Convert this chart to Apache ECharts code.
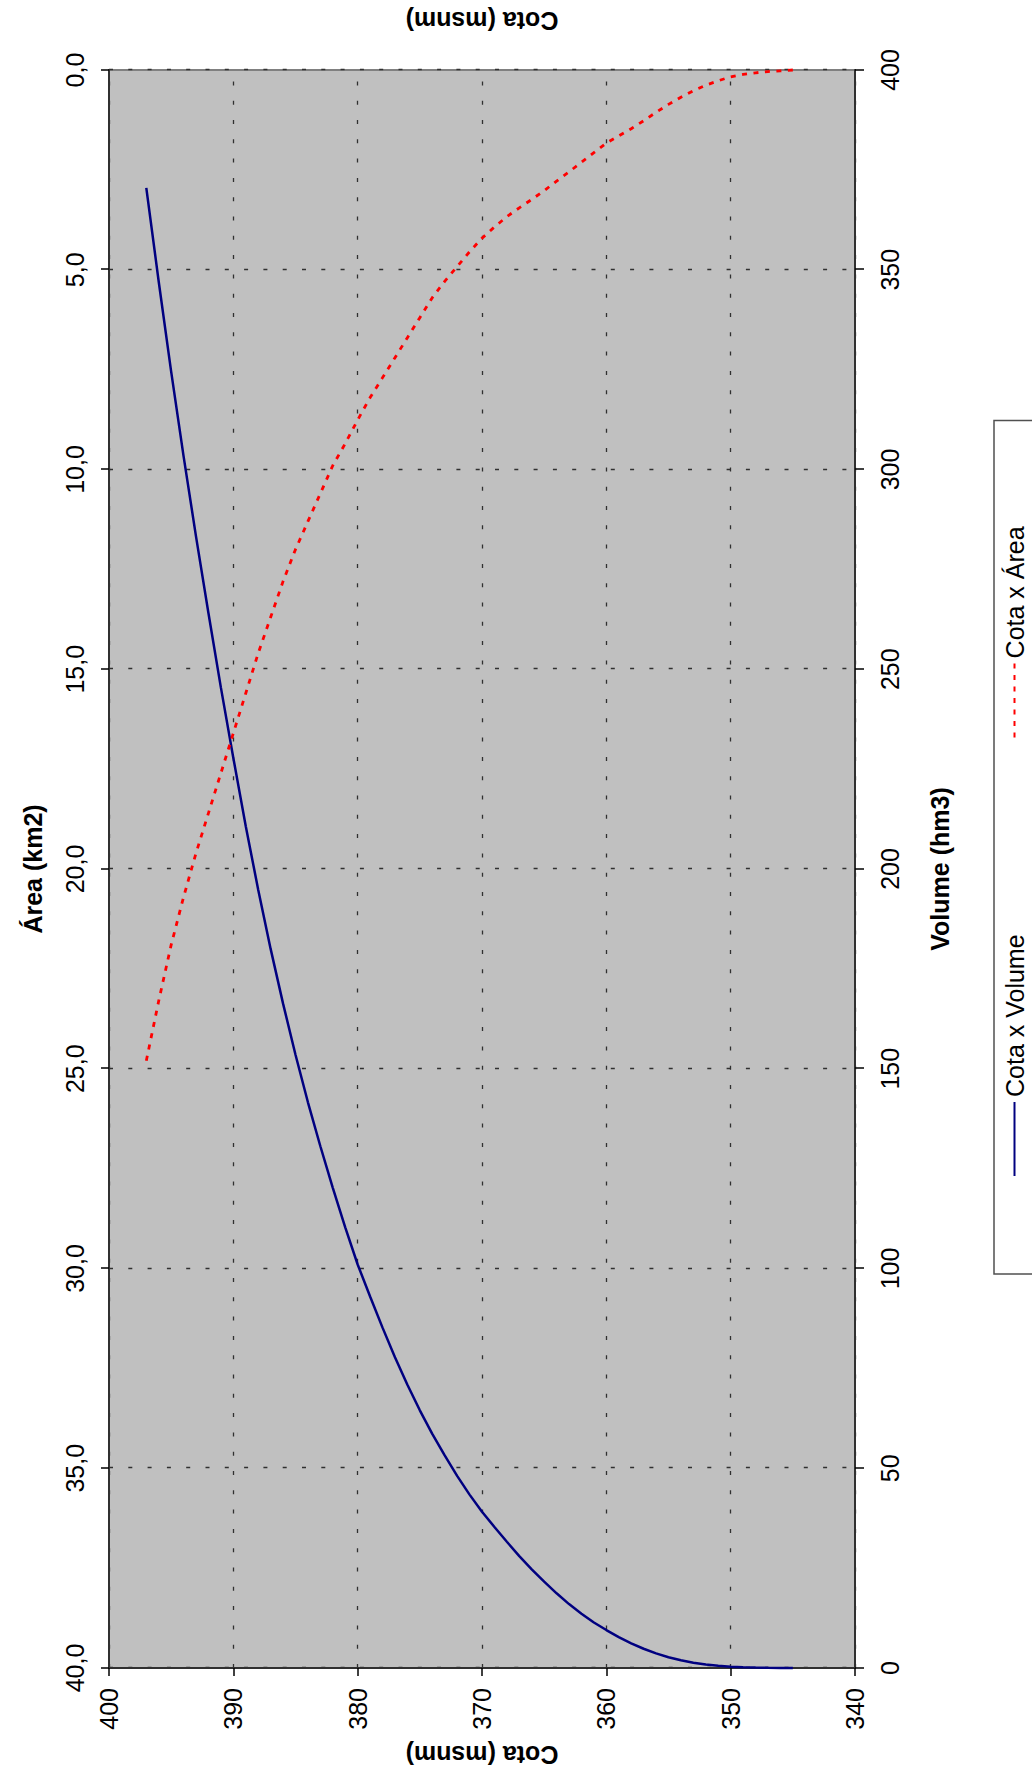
<!DOCTYPE html>
<html>
<head>
<meta charset="utf-8">
<script src="https://cdn.jsdelivr.net/npm/echarts@6/dist/echarts.min.js"></script>
<style>
  html, body { margin: 0; padding: 0; background: #fff; overflow: hidden; width: 1032px; height: 1780px; }
  /* The chart is laid out landscape and turned a quarter turn onto the portrait page */
  #chart {
    position: absolute; left: 0; top: 0;
    width: 1780px; height: 1032px;
    transform-origin: 0 0;
    transform: translate(0, 1780px) rotate(-90deg);
  }
</style>
</head>
<body>
<div id="chart"></div>
<script>
// Reservoir level (m) with the stored volume and the flooded area at each level
const cota = [345, 346, 347, 348, 349, 350, 351, 352, 353, 354,
              355, 356, 357, 358, 359, 360, 361, 362, 363, 364,
              365, 366, 367, 368, 369, 370, 371, 372, 373, 374,
              375, 376, 377, 378, 379, 380, 381, 382, 383, 384,
              385, 386, 387, 388, 389, 390, 391, 392, 393, 394,
              395, 396, 397];
const volume = [0, 0.01, 0.04, 0.1, 0.19, 0.33, 0.55, 0.87, 1.32, 1.92,
                2.69, 3.65, 4.82, 6.19, 7.75, 9.5, 11.4, 13.6, 16.0, 18.7,
                21.6, 24.7, 28.0, 31.6, 35.3, 39.1, 43.4, 48.1, 53.2, 58.6,
                64.5, 70.9, 77.8, 85.2, 93.0, 101.0, 110.3, 120.2, 130.6, 141.6,
                153.5, 166.3, 180.0, 194.8, 210.7, 227.8, 245.4, 264.0, 283.2, 303.3,
                324.5, 347.0, 370.5];
const area = [0, 0.02, 0.04, 0.07, 0.11, 0.17, 0.27, 0.38, 0.52, 0.68,
              0.86, 1.06, 1.27, 1.47, 1.65, 1.83, 2.07, 2.31, 2.55, 2.78,
              3.02, 3.24, 3.45, 3.67, 3.93, 4.21, 4.55, 4.92, 5.29, 5.7,
              6.2, 6.7, 7.2, 7.7, 8.2, 8.76, 9.35, 9.9, 10.6, 11.3,
              12.0, 12.8, 13.7, 14.6, 15.6, 16.6, 17.6, 18.6, 19.6, 20.7,
              21.9, 23.3, 24.8];

const seriesNames = ['Cota x Volume', 'Cota x Área'];
const axisTitles = { volume: 'Volume (hm3)', area: 'Área (km2)', cota: 'Cota (msnm)' };

const FONT = '"Liberation Sans", Arial, Helvetica, sans-serif';
const label = { fontFamily: FONT, fontSize: 25, color: '#000' };
const title = { fontFamily: FONT, fontSize: 25, fontWeight: 'bold', color: '#000' };
const gridDash = { color: '#303030', width: 1.3, type: [4, 15.3] };
const darkAxis = { show: true, lineStyle: { color: '#303030', width: 2 } };

const chart = echarts.init(document.getElementById('chart'), null, { renderer: 'svg' });

chart.setOption({
  animation: false,
  backgroundColor: '#ffffff',
  grid: {
    left: 112, right: 70, top: 109, bottom: 177,
    show: true, backgroundColor: '#C0C0C0', borderColor: '#808080', borderWidth: 2
  },
  legend: {
    data: seriesNames,
    left: 506, top: 994,
    orient: 'horizontal',
    itemWidth: 74, itemHeight: 4, itemGap: 196,
    padding: [8, 106, 40, 97],
    borderColor: '#505050', borderWidth: 1.5, backgroundColor: '#ffffff',
    // legend keys are plain line samples, no marker
    itemStyle: { opacity: 0 },
    textStyle: label
  },
  xAxis: [
    {
      type: 'value', position: 'bottom', min: 0, max: 400, interval: 50,
      name: axisTitles.volume, nameLocation: 'middle', nameGap: 72, nameTextStyle: title,
      axisLine: darkAxis,
      axisTick: { show: true, inside: false, length: 9, lineStyle: { color: '#000', width: 1.5 } },
      axisLabel: Object.assign({ margin: 22 }, label),
      splitLine: { show: true, lineStyle: gridDash }
    },
    {
      type: 'value', position: 'top', min: 0, max: 40, interval: 5, inverse: true,
      name: axisTitles.area, nameLocation: 'middle', nameGap: 64, nameTextStyle: title,
      axisLine: darkAxis,
      axisTick: { show: true, inside: false, length: 8, lineStyle: { color: '#000', width: 1.5 } },
      axisLabel: Object.assign({ margin: 22, formatter: v => v.toFixed(1).replace('.', ',') }, label),
      splitLine: { show: false }
    }
  ],
  yAxis: [
    {
      type: 'value', position: 'left', min: 340, max: 400, interval: 10,
      name: axisTitles.cota, nameLocation: 'middle', nameGap: 74, nameTextStyle: title,
      axisLine: darkAxis,
      axisTick: { show: true, inside: false, length: 8, lineStyle: { color: '#000', width: 1.5 } },
      axisLabel: Object.assign({ margin: 20 }, label),
      splitLine: { show: true, lineStyle: gridDash }
    },
    {
      type: 'value', position: 'right', min: 340, max: 400, interval: 10,
      name: axisTitles.cota, nameLocation: 'middle', nameGap: 37, nameTextStyle: title,
      axisLine: { show: false }, axisTick: { show: false },
      axisLabel: { show: false }, splitLine: { show: false }
    }
  ],
  series: [
    {
      name: seriesNames[0], type: 'line', xAxisIndex: 0, yAxisIndex: 0,
      symbol: 'none', showSymbol: false,
      lineStyle: { color: '#000080', width: 2.5 },
      itemStyle: { color: '#000080' },
      data: cota.map((c, i) => [volume[i], c])
    },
    {
      name: seriesNames[1], type: 'line', xAxisIndex: 1, yAxisIndex: 0,
      symbol: 'none', showSymbol: false,
      lineStyle: { color: '#FF0000', width: 2.8, type: [5, 6.5] },
      itemStyle: { color: '#FF0000' },
      data: cota.map((c, i) => [area[i], c])
    }
  ]
});
</script>
</body>
</html>
